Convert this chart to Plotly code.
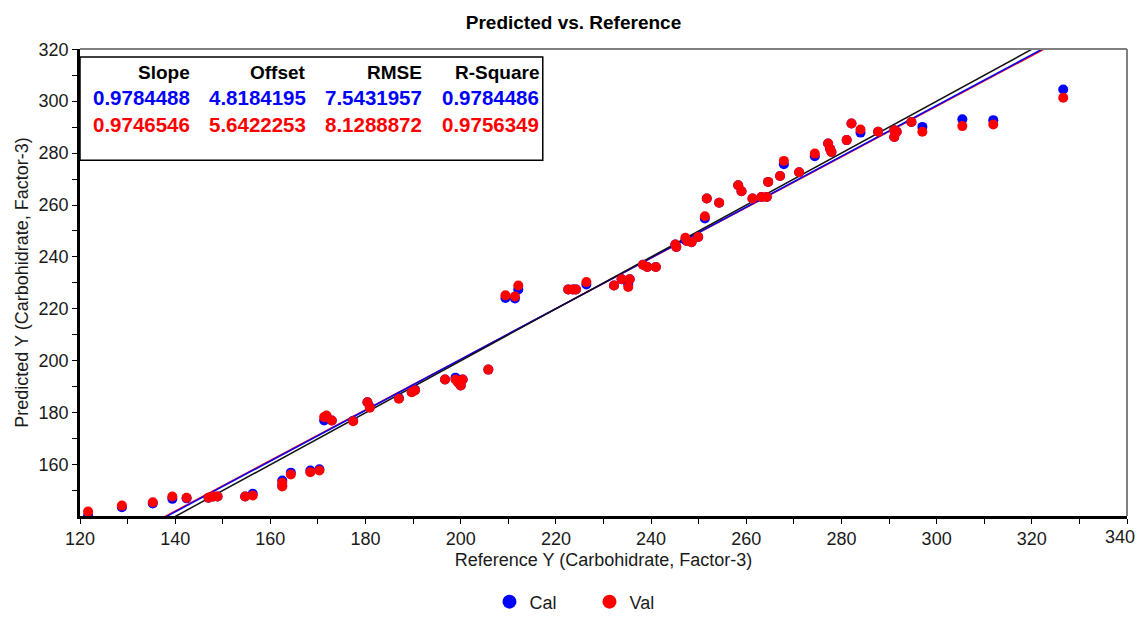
import plotly.graph_objects as go

# ---- data ----
reference = [121.7, 128.8, 135.3, 139.4, 142.4, 147.0, 148.0, 148.9, 154.7, 156.3,
             162.5, 162.5, 164.3, 168.4, 170.3, 171.3, 171.8, 172.9, 177.4, 180.4,
             180.9, 187.0, 189.7, 190.4, 196.7, 198.9, 199.5, 200.0, 200.4, 205.8,
             209.4, 211.4, 212.1, 222.6, 223.6, 224.2, 226.4, 232.2, 233.8, 235.2,
             235.5, 238.3, 239.2, 241.0, 245.1, 245.3, 247.2, 247.6, 248.5, 249.9,
             251.3, 251.7, 254.3, 258.3, 259.0, 261.3, 263.2, 264.3, 264.6, 267.1,
             267.9, 271.1, 274.4, 277.2, 277.6, 277.9, 281.1, 282.1, 284.0, 287.7,
             291.1, 291.1, 291.6, 294.7, 297.0, 305.4, 311.9, 326.6]
cal_pred = [140.4, 143.6, 145.0, 146.8, 147.0, 147.2, 147.7, 147.7, 147.7, 148.8,
            153.9, 151.9, 156.9, 157.7, 158.2, 177.0, 178.5, 177.0, 176.9, 184.0,
            182.2, 185.6, 188.0, 188.8, 192.8, 193.5, 191.5, 190.5, 192.8, 196.6,
            224.2, 224.0, 227.5, 227.5, 227.5, 227.5, 229.4, 229.0, 231.4, 229.4,
            231.4, 237.0, 236.1, 236.1, 244.8, 243.8, 246.5, 246.1, 245.7, 247.7,
            254.8, 262.5, 260.9, 267.6, 265.3, 262.5, 263.1, 263.1, 268.9, 271.2,
            275.7, 272.6, 278.8, 283.7, 281.7, 280.4, 285.0, 291.4, 287.9, 288.2,
            288.8, 286.2, 288.2, 292.0, 290.1, 293.0, 292.7, 304.5]
val_pred = [141.9, 144.2, 145.5, 147.7, 147.2, 147.2, 147.7, 147.7, 147.7, 148.1,
            153.0, 151.6, 156.2, 157.1, 157.7, 178.3, 178.9, 177.0, 176.7, 184.0,
            181.9, 185.4, 187.9, 188.6, 192.8, 192.8, 191.5, 190.5, 192.8, 196.6,
            225.2, 224.8, 229.0, 227.5, 227.5, 227.5, 230.3, 229.0, 231.4, 228.4,
            231.4, 237.0, 236.1, 236.1, 244.8, 243.8, 247.4, 246.1, 245.7, 247.7,
            255.7, 262.5, 260.9, 267.6, 265.3, 262.5, 263.1, 263.1, 268.9, 271.2,
            277.0, 272.6, 279.8, 283.7, 281.7, 280.4, 285.0, 291.4, 289.1, 288.2,
            288.8, 286.2, 288.2, 292.0, 288.2, 290.4, 291.0, 301.3]

stat_headers = ["Slope", "Offset", "RMSE", "R-Square"]
cal_stats = ["0.9784488", "4.8184195", "7.5431957", "0.9784486"]
val_stats = ["0.9746546", "5.6422253", "8.1288872", "0.9756349"]
cal_slope, cal_offset = 0.9784488, 4.8184195
val_slope, val_offset = 0.9746546, 5.6422253

x_ticks = list(range(120, 341, 20))
x_ticktext = [str(v) for v in x_ticks[:-1]] + [""]   # last label drawn separately
y_ticks = list(range(160, 321, 20))
line_x = [110, 350]

FONT = "Liberation Sans, Arial, sans-serif"
BLUE = "#0000ff"
RED = "#ff0000"
TXT = "#1a1a1a"

fig = go.Figure()

fig.add_trace(go.Scatter(x=line_x, y=[val_slope * v + val_offset for v in line_x],
                         mode="lines", line=dict(color=RED, width=1.5),
                         showlegend=False, hoverinfo="skip"))
fig.add_trace(go.Scatter(x=line_x, y=[cal_slope * v + cal_offset for v in line_x],
                         mode="lines", line=dict(color=BLUE, width=1.5),
                         showlegend=False, hoverinfo="skip"))
fig.add_trace(go.Scatter(x=line_x, y=line_x, mode="lines",
                         line=dict(color="#111111", width=1.5),
                         showlegend=False, hoverinfo="skip"))

fig.add_trace(go.Scatter(x=reference, y=cal_pred, mode="markers", name="Cal",
                         legendgroup="cal", showlegend=False,
                         marker=dict(color=BLUE, size=10, line=dict(width=0))))
fig.add_trace(go.Scatter(x=reference, y=val_pred, mode="markers", name="Val",
                         legendgroup="val", showlegend=False,
                         marker=dict(color=RED, size=10, line=dict(width=0))))
# legend entries (larger symbols, as in the reference legend)
fig.add_trace(go.Scatter(x=[None], y=[None], mode="markers", name="Cal",
                         legendgroup="cal",
                         marker=dict(color=BLUE, size=14, line=dict(width=0))))
fig.add_trace(go.Scatter(x=[None], y=[None], mode="markers", name="Val",
                         legendgroup="val",
                         marker=dict(color=RED, size=14, line=dict(width=0))))

# statistics table
col_x = [0.107, 0.218, 0.329, 0.440]
row_y = [0.949, 0.896, 0.839]
for i in range(4):
    for row, (texts, col, fs) in enumerate([(stat_headers, "#000000", 19),
                                            (cal_stats, BLUE, 20.5),
                                            (val_stats, RED, 20.5)]):
        fig.add_annotation(x=col_x[i], y=row_y[row], xref="paper", yref="paper",
                           text="<b>" + texts[i] + "</b>", showarrow=False,
                           xanchor="right", yanchor="middle",
                           font=dict(family=FONT, size=fs, color=col))
fig.add_shape(type="rect", xref="paper", yref="paper", x0=0.0, x1=0.442,
              y0=0.762, y1=0.983, line=dict(color="#000000", width=1.5),
              fillcolor="rgba(0,0,0,0)")

# last x tick label, nudged left so it stays inside the page
fig.add_annotation(x=x_ticks[-1], y=0, xref="x", yref="paper",
                   text=str(x_ticks[-1]), showarrow=False,
                   xanchor="center", yanchor="middle", xshift=-7, yshift=-21,
                   font=dict(family=FONT, size=18, color=TXT))

# gray top/right frame
fig.add_shape(type="line", xref="paper", yref="paper", x0=0, x1=1, y0=1, y1=1,
              line=dict(color="#808080", width=2))
fig.add_shape(type="line", xref="paper", yref="paper", x0=1, x1=1, y0=0, y1=1,
              line=dict(color="#808080", width=2))

fig.update_layout(
    width=1131, height=604,
    margin=dict(l=72, r=12, t=41, b=96, autoexpand=False),
    paper_bgcolor="white", plot_bgcolor="white",
    title=dict(text="<b>Predicted vs. Reference</b>", x=0.5, xanchor="center",
               y=1 - 14 / 604, yanchor="middle",
               font=dict(family=FONT, size=19, color="#000000")),
    font=dict(family=FONT, size=18, color=TXT),
    legend=dict(orientation="h", x=0.4866, xanchor="center", y=-0.184, yanchor="middle",
                font=dict(family=FONT, size=18, color=TXT),
                entrywidth=55, entrywidthmode="pixels"),
    xaxis=dict(range=[120, 340], tickvals=x_ticks, ticktext=x_ticktext,
               ticks="outside", ticklen=5,
               tickcolor="#000000", showgrid=False, zeroline=False, automargin=False,
               showline=True, linecolor="#000000", linewidth=2.5,
               minor=dict(dtick=10, ticks="outside", ticklen=5, tickcolor="#000000"),
               title=dict(text="Reference Y (Carbohidrate, Factor-3)", standoff=6,
                          font=dict(family=FONT, size=18, color=TXT)),
               tickfont=dict(family=FONT, size=18, color=TXT)),
    yaxis=dict(range=[140.2, 320.1], tickvals=y_ticks, ticks="outside", ticklen=5,
               tickcolor="#000000", showgrid=False, zeroline=False, automargin=False,
               showline=True, linecolor="#000000", linewidth=2.5,
               minor=dict(dtick=10, ticks="outside", ticklen=5, tickcolor="#000000"),
               title=dict(text="Predicted Y (Carbohidrate, Factor-3)", standoff=6,
                          font=dict(family=FONT, size=18, color=TXT)),
               tickfont=dict(family=FONT, size=18, color=TXT)),
)

fig.write_html("out.html")
